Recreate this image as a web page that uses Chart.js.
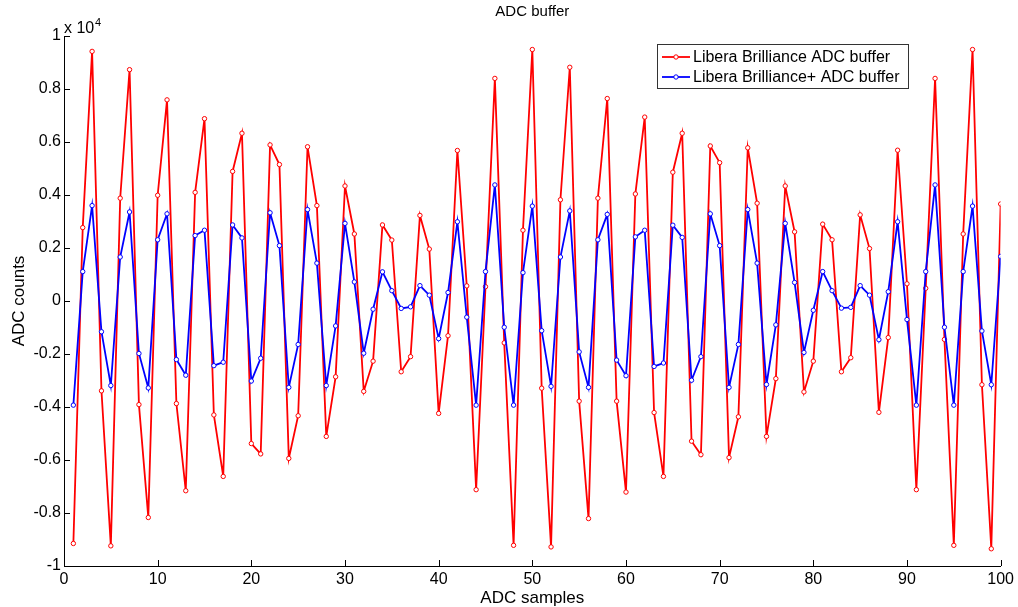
<!DOCTYPE html>
<html>
<head>
<meta charset="utf-8">
<script src="https://cdn.jsdelivr.net/npm/chart.js@4.4.1/dist/chart.umd.min.js"></script>
<style>
  html, body { margin: 0; padding: 0; background: #fff; }
  #wrap { width: 1018px; height: 607px; }
</style>
</head>
<body>
<div id="wrap"><canvas id="adcChart" width="1018" height="607"></canvas></div>
<script>
// ADC samples 1..100
const samples = Array.from({ length: 100 }, (_, i) => i + 1);

// Libera Brilliance ADC buffer (counts)
const brillianceCounts = [
  -9150, 2770, 9420, -3390, -9240, 3880, 8730, -3910, -8170, 3990,
  7590, -3870, -7160, 4100, 6880, -4300, -6620, 4890, 6330, -5380,
  -5770, 5890, 5150, -5940, -4330, 5820, 3600, -5110, -2860, 4340,
  2530, -3410, -2270, 2870, 2300, -2670, -2100, 3230, 1960, -4240,
  -1310, 5680, 570, -7120, 540, 8400, -1580, -9220, 2670, 9490,
  -3290, -9280, 3820, 8820, -3780, -8210, 3880, 7640, -3780, -7210,
  4040, 6940, -4210, -6620, 4860, 6330, -5290, -5800, 5850, 5220,
  -5910, -4370, 5780, 3690, -5110, -2930, 4340, 2610, -3430, -2270,
  2900, 2310, -2670, -2140, 3250, 1980, -4200, -1380, 5690, 650,
  -7120, 480, 8400, -1450, -9220, 2530, 9490, -3160, -9350, 3660
];

// Libera Brilliance+ ADC buffer (counts)
const brilliancePlusCounts = [
  -3930, 1110, 3600, -1160, -3190, 1660, 3360, -1980, -3280, 2310,
  3290, -2210, -2800, 2470, 2670, -2440, -2310, 2870, 2380, -3020,
  -2160, 3330, 2090, -3260, -1640, 3450, 1430, -3190, -940, 2930,
  720, -1970, -310, 1100, 390, -280, -220, 580, 220, -1420,
  320, 2990, -610, -3930, 1110, 4380, -990, -3930, 1070, 3580,
  -1120, -3220, 1660, 3400, -1920, -3260, 2310, 3270, -2230, -2820,
  2420, 2670, -2470, -2340, 2860, 2400, -2990, -2100, 3290, 2090,
  -3260, -1640, 3450, 1430, -3150, -900, 2930, 700, -1940, -350,
  1110, 390, -270, -240, 580, 220, -1460, 350, 2990, -700,
  -3930, 1110, 4380, -990, -3930, 1110, 3580, -1130, -3160, 1680
];

const seriesNames = ['Libera Brilliance ADC buffer', 'Libera Brilliance+ ADC buffer'];
const seriesColors = ['#ff0000', '#0000ff'];

const FONT = '"Liberation Sans", Arial, Helvetica, sans-serif';

function toPoints(values) {
  return values.map((v, i) => ({ x: samples[i], y: v }));
}

// MATLAB-like decorations: inward ticks, titles, exponent, legend box
const matlabDecor = {
  id: 'matlabDecor',
  afterDraw(chart) {
    const ctx = chart.ctx;
    const area = chart.chartArea;
    const xs = chart.scales.x;
    const ys = chart.scales.y;
    ctx.save();

    // inward tick marks
    ctx.strokeStyle = '#000';
    ctx.lineWidth = 1;
    ctx.beginPath();
    xs.ticks.forEach(t => {
      const px = Math.round(xs.getPixelForValue(t.value)) + 0.5;
      ctx.moveTo(px, area.bottom);
      ctx.lineTo(px, area.bottom - 6);
    });
    ys.ticks.forEach(t => {
      const py = Math.round(ys.getPixelForValue(t.value)) + 0.5;
      ctx.moveTo(area.left, py);
      ctx.lineTo(area.left + 6, py);
    });
    ctx.stroke();

    ctx.fillStyle = '#000';
    // title
    ctx.font = '15px ' + FONT;
    ctx.textAlign = 'center';
    ctx.textBaseline = 'middle';
    ctx.fillText('ADC buffer', (area.left + area.right) / 2, 12);

    // axis titles
    ctx.font = '17px ' + FONT;
    ctx.fillText('ADC samples', (area.left + area.right) / 2, 598);
    ctx.save();
    ctx.translate(19, (area.top + area.bottom) / 2);
    ctx.rotate(-Math.PI / 2);
    ctx.fillText('ADC counts', 0, 0);
    ctx.restore();

    // exponent label
    ctx.textAlign = 'left';
    ctx.textBaseline = 'alphabetic';
    ctx.font = '16px ' + FONT;
    ctx.fillText('x 10', 64, 33);
    ctx.font = '11px ' + FONT;
    ctx.fillText('4', 95, 26);

    // legend
    const lx = 657.5, ly = 44.5, lw = 251, lh = 44;
    ctx.fillStyle = '#fff';
    ctx.fillRect(lx, ly, lw, lh);
    ctx.strokeStyle = '#333';
    ctx.lineWidth = 1;
    ctx.strokeRect(lx, ly, lw, lh);
    ctx.font = '16px ' + FONT;
    ctx.textBaseline = 'middle';
    seriesNames.forEach((name, i) => {
      const y = 57 + i * 20;
      ctx.strokeStyle = seriesColors[i];
      ctx.lineWidth = 1.8;
      ctx.beginPath();
      ctx.moveTo(662, y);
      ctx.lineTo(690, y);
      ctx.stroke();
      ctx.beginPath();
      ctx.arc(676, y, 2.2, 0, Math.PI * 2);
      ctx.fillStyle = '#fff';
      ctx.fill();
      ctx.lineWidth = 1;
      ctx.stroke();
      ctx.fillStyle = '#000';
      ctx.fillText(name, 693, y + 1);
    });

    ctx.restore();
  }
};

const ctx = document.getElementById('adcChart').getContext('2d');
new Chart(ctx, {
  type: 'line',
  data: {
    datasets: [
      {
        label: seriesNames[0],
        data: toPoints(brillianceCounts),
        borderColor: seriesColors[0],
        backgroundColor: '#fff',
        borderWidth: 1.8,
        pointRadius: 2.2,
        pointBorderWidth: 1,
        pointBackgroundColor: '#fff',
        pointBorderColor: seriesColors[0],
        tension: 0,
        order: 2
      },
      {
        label: seriesNames[1],
        data: toPoints(brilliancePlusCounts),
        borderColor: seriesColors[1],
        backgroundColor: '#fff',
        borderWidth: 1.8,
        pointRadius: 2.2,
        pointBorderWidth: 1,
        pointBackgroundColor: '#fff',
        pointBorderColor: seriesColors[1],
        tension: 0,
        order: 1
      }
    ]
  },
  options: {
    responsive: false,
    animation: false,
    events: [],
    layout: { padding: { top: 36, right: 0, left: 0, bottom: 0 } },
    scales: {
      x: {
        type: 'linear',
        min: 0,
        max: 100,
        grid: { display: false, drawTicks: false },
        border: { display: true, color: '#000', width: 1 },
        ticks: {
          stepSize: 10,
          padding: 4,
          color: '#000',
          font: { family: FONT, size: 16 },
          maxRotation: 0
        },
        afterFit: scale => { scale.height = 41; }
      },
      y: {
        type: 'linear',
        min: -10000,
        max: 10000,
        grid: { display: false, drawTicks: false },
        border: { display: true, color: '#000', width: 1 },
        ticks: {
          stepSize: 2000,
          padding: 3,
          color: '#000',
          font: { family: FONT, size: 16 },
          callback: v => String(Math.round(v / 1000) / 10)
        },
        afterFit: scale => { scale.width = 64; }
      }
    },
    plugins: {
      legend: { display: false },
      title: { display: false },
      tooltip: { enabled: false }
    }
  },
  plugins: [matlabDecor]
});
</script>
</body>
</html>
